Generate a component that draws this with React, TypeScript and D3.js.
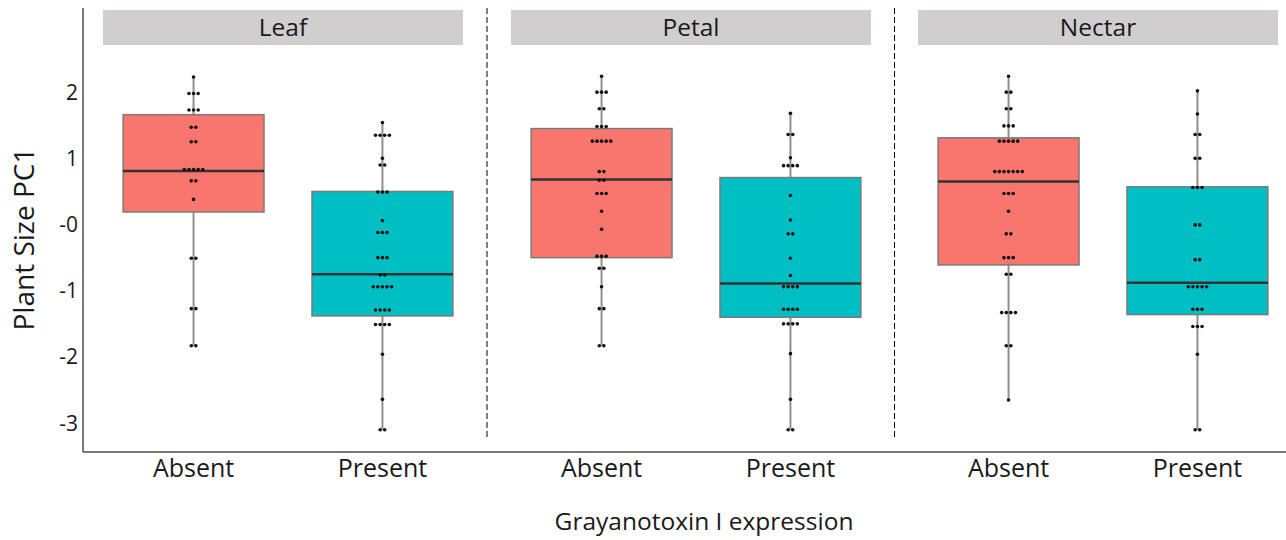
import React from "react";
import * as d3 from "d3";

const FACETS = ["Leaf", "Petal", "Nectar"];
const GROUPS = ["Absent", "Present"];
const Y_TICKS = [2, 1, 0, -1, -2, -3];
const Y_TICK_LABELS = ["2", "1", "-0", "-1", "-2", "-3"];

// [facet][group]
const Q1 = [[0.18, -1.39], [-0.51, -1.41], [-0.62, -1.37]];
const MEDIAN = [[0.8, -0.76], [0.67, -0.9], [0.64, -0.89]];
const Q3 = [[1.65, 0.49], [1.44, 0.7], [1.3, 0.56]];
const WHISKER_LO = [[-1.84, -3.11], [-1.84, -3.11], [-2.66, -3.11]];
const WHISKER_HI = [[2.22, 1.53], [2.23, 1.67], [2.23, 2.01]];

// dot plot bins: [value, count]
const LEAF_ABSENT = [[2.22, 1], [1.97, 3], [1.72, 3], [1.46, 2], [1.24, 2], [0.82, 5], [0.65, 2], [0.37, 1], [-0.52, 2], [-1.28, 2], [-1.84, 2]];
const LEAF_PRESENT = [[1.53, 1], [1.34, 4], [0.99, 1], [0.89, 2], [0.48, 3], [0.05, 1], [-0.13, 3], [-0.51, 3], [-0.77, 2], [-0.95, 5], [-1.3, 4], [-1.52, 4], [-1.97, 1], [-2.65, 1], [-3.11, 2]];
const PETAL_ABSENT = [[2.23, 1], [1.99, 3], [1.74, 2], [1.47, 3], [1.25, 5], [0.79, 2], [0.66, 2], [0.46, 3], [0.19, 1], [-0.08, 1], [-0.49, 3], [-0.67, 2], [-0.95, 1], [-1.28, 2], [-1.84, 2]];
const PETAL_PRESENT = [[1.67, 1], [1.35, 2], [1.0, 1], [0.88, 4], [0.43, 1], [0.06, 1], [-0.15, 2], [-0.52, 1], [-0.78, 1], [-0.95, 4], [-1.29, 4], [-1.51, 4], [-1.96, 1], [-2.65, 1], [-3.11, 2]];
const NECTAR_ABSENT = [[2.23, 1], [1.99, 2], [1.74, 2], [1.48, 3], [1.25, 5], [0.79, 7], [0.46, 3], [0.19, 1], [-0.15, 2], [-0.51, 3], [-0.76, 2], [-1.34, 4], [-1.84, 2], [-2.66, 1]];
const NECTAR_PRESENT = [[2.01, 1], [1.66, 1], [1.35, 2], [0.99, 2], [0.55, 3], [-0.015, 2], [-0.54, 2], [-0.95, 5], [-1.29, 3], [-1.55, 3], [-1.97, 1], [-3.11, 2]];
const DOTS = [[LEAF_ABSENT, LEAF_PRESENT], [PETAL_ABSENT, PETAL_PRESENT], [NECTAR_ABSENT, NECTAR_PRESENT]];

const COLORS = ["#F8766D", "#00BFC4"];
const FONT = "'Open Sans', sans-serif";

const W = 1286;
const H = 540;
const PANEL_X0 = [103, 511, 918];
const PANEL_W = 360;
const AXIS_X = 83;
const AXIS_Y = 452;

export default function App() {
  const y = d3.scaleLinear().domain([-3, 2]).range([422.5, 91.5]);
  const facetBand = (i: number) =>
    d3
      .scaleBand<string>()
      .domain(GROUPS)
      .range([PANEL_X0[i] + 5, PANEL_X0[i] + 5 + PANEL_W])
      .paddingInner(0.254)
      .paddingOuter(0.08);

  const dotSpacing = 4.6;
  const dotR = 1.8;

  return (
    <svg width={W} height={H} style={{ position: "absolute", left: 0, top: 0, background: "#fff" }} fontFamily={FONT}>
      {/* axes */}
      <line x1={AXIS_X} x2={AXIS_X} y1={8} y2={AXIS_Y} stroke="#4d4d4d" strokeWidth={1.5} />
      <line x1={AXIS_X} x2={W} y1={AXIS_Y} y2={AXIS_Y} stroke="#4d4d4d" strokeWidth={1.5} />
      {Y_TICKS.map((t, i) => (
        <text key={t} x={78} y={y(t)} textAnchor="end" dominantBaseline="central" fontSize={21} fill="#1a1a1a">
          {Y_TICK_LABELS[i]}
        </text>
      ))}
      <text transform={`translate(23,239) rotate(-90)`} textAnchor="middle" dominantBaseline="central" fontSize={28} fill="#1a1a1a">
        Plant Size PC1
      </text>
      <text x={704} y={530} textAnchor="middle" fontSize={24.5} fill="#1a1a1a">
        Grayanotoxin I expression
      </text>

      {/* separators */}
      {[0, 1].map((i) => {
        const xs = (PANEL_X0[i] + PANEL_W + PANEL_X0[i + 1]) / 2;
        return <line key={i} x1={xs} x2={xs} y1={8} y2={438} stroke="#000" strokeWidth={1} strokeDasharray="6,3" />;
      })}

      {FACETS.map((f, fi) => {
        const xb = facetBand(fi);
        const bw = xb.bandwidth();
        return (
          <g key={f}>
            <rect x={PANEL_X0[fi]} y={10} width={PANEL_W} height={35} fill="#D0CECF" />
            <text x={PANEL_X0[fi] + PANEL_W / 2} y={36} textAnchor="middle" fontSize={24.5} fill="#1a1a1a">
              {f}
            </text>
            {GROUPS.map((g, gi) => {
              const x0 = xb(g)!;
              const cx = x0 + bw / 2;
              return (
                <g key={g}>
                  <line x1={cx} x2={cx} y1={y(WHISKER_HI[fi][gi])} y2={y(WHISKER_LO[fi][gi])} stroke="#8f8f8f" strokeWidth={2} />
                  <rect
                    x={x0}
                    y={y(Q3[fi][gi])}
                    width={bw}
                    height={y(Q1[fi][gi]) - y(Q3[fi][gi])}
                    fill={COLORS[gi]}
                    stroke="#7a7a7a"
                    strokeWidth={1.5}
                  />
                  <line x1={x0} x2={x0 + bw} y1={y(MEDIAN[fi][gi])} y2={y(MEDIAN[fi][gi])} stroke="#333" strokeWidth={2.5} />
                  {DOTS[fi][gi].map(([v, n], di) =>
                    d3.range(n).map((k) => (
                      <circle
                        key={`${di}-${k}`}
                        cx={cx + (k - (n - 1) / 2) * dotSpacing}
                        cy={y(v)}
                        r={dotR}
                        fill="#111"
                      />
                    ))
                  )}
                  <text x={cx} y={477} textAnchor="middle" fontSize={25} fill="#1a1a1a">
                    {g}
                  </text>
                </g>
              );
            })}
          </g>
        );
      })}
    </svg>
  );
}
